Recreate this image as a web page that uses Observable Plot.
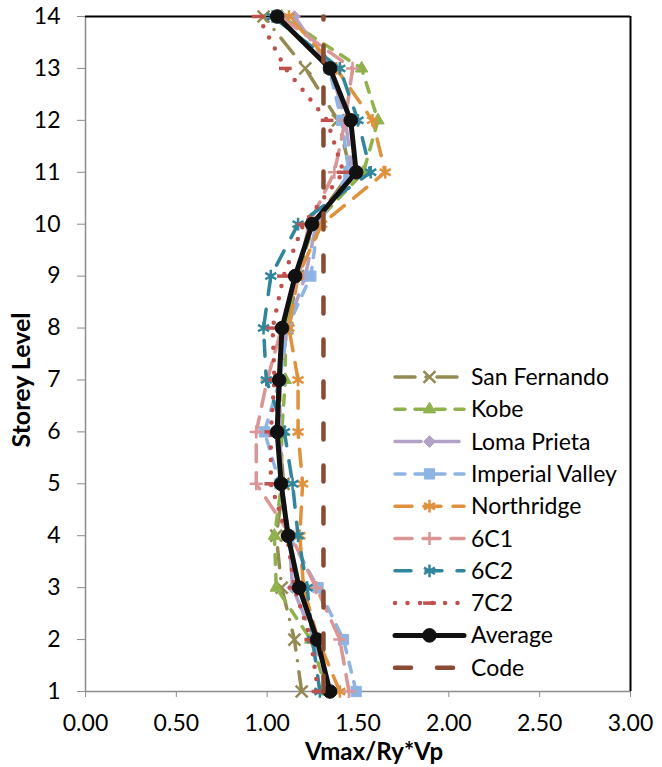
<!DOCTYPE html>
<html>
<head>
<meta charset="utf-8">
<script src="https://cdn.jsdelivr.net/npm/d3@7"></script>
<script src="https://cdn.jsdelivr.net/npm/@observablehq/plot@0.6"></script>
<style>
  html, body { margin: 0; padding: 0; background: #fff; }
  #chart { position: relative; width: 662px; height: 767px; }
</style>
</head>
<body>
<div id="chart"></div>
<script>
// ---- Data ----
const storeys = [1, 2, 3, 4, 5, 6, 7, 8, 9, 10, 11, 12, 13, 14];
const xTicks = [0, 0.5, 1, 1.5, 2, 2.5, 3];
const yTicks = [1, 2, 3, 4, 5, 6, 7, 8, 9, 10, 11, 12, 13, 14];

const sanFernando    = [1.19, 1.15, 1.08, 1.05, 1.09, 1.07, 1.07, 1.11, 1.17, 1.25, 1.46, 1.39, 1.21, 0.98];
const kobe           = [1.33, 1.24, 1.05, 1.04, 1.08, 1.08, 1.10, 1.10, 1.16, 1.26, 1.53, 1.61, 1.52, 1.08];
const lomaPrieta     = [1.34, 1.26, 1.14, 1.12, 1.08, 1.07, 1.07, 1.11, 1.21, 1.27, 1.47, 1.43, 1.35, 1.15];
const imperialValley = [1.49, 1.42, 1.28, 1.12, 1.07, 0.985, 1.07, 1.11, 1.24, 1.28, 1.45, 1.41, 1.34, 1.06];
const northridge     = [1.40, 1.28, 1.20, 1.18, 1.195, 1.17, 1.17, 1.12, 1.17, 1.30, 1.65, 1.58, 1.38, 1.12];
const s6C1           = [1.45, 1.40, 1.27, 1.13, 0.94, 0.94, 1.00, 1.08, 1.17, 1.23, 1.37, 1.43, 1.47, 1.07];
const s6C2           = [1.29, 1.25, 1.22, 1.17, 1.14, 1.095, 0.995, 0.98, 1.02, 1.17, 1.57, 1.50, 1.40, 1.03];
const s7C2           = [1.28, 1.24, 1.15, 1.11, 1.02, 1.02, 1.04, 1.03, 1.09, 1.20, 1.42, 1.33, 1.10, 0.95];
const average        = [1.346, 1.275, 1.176, 1.115, 1.077, 1.055, 1.066, 1.082, 1.154, 1.247, 1.49, 1.46, 1.346, 1.055];
const code           = [1.31, 1.31, 1.31, 1.31, 1.31, 1.31, 1.31, 1.31, 1.31, 1.31, 1.31, 1.31, 1.31, 1.31];

const seriesNames = ["San Fernando", "Kobe", "Loma Prieta", "Imperial Valley", "Northridge", "6C1", "6C2", "7C2", "Average", "Code"];
const seriesValues = [sanFernando, kobe, lomaPrieta, imperialValley, northridge, s6C1, s6C2, s7C2, average, code];

// ---- Custom symbols ----
const diamondSym = { draw(ctx, size) { const r = Math.sqrt(size) * 0.6; ctx.moveTo(0, -r); ctx.lineTo(r, 0); ctx.lineTo(0, r); ctx.lineTo(-r, 0); ctx.closePath(); } };
const dashSym = { draw(ctx, size) { const r = Math.sqrt(size) * 0.6; ctx.moveTo(-r, 0); ctx.lineTo(r, 0); } };

// ---- Styles ----
const styles = [
  { color: "#948A54", width: 3.5, dash: "20,11,0,11", symbol: "times", r: 5.5, filled: false, mw: 2.5 },
  { color: "#8FB24D", width: 3.5, dash: "10,10", symbol: "triangle", r: 4.6, filled: true, mw: 1 },
  { color: "#B3A2C7", width: 3.5, dash: "26,12", symbol: diamondSym, r: 5.5, filled: true, mw: 1 },
  { color: "#8EB4E3", width: 3.5, dash: "10,10", symbol: "square", r: 5.8, filled: true, mw: 1 },
  { color: "#E0913C", width: 3.5, dash: "17,12", symbol: "asterisk", r: 6, filled: false, mw: 2.5 },
  { color: "#D99694", width: 3.5, dash: "17,11", symbol: "plus", r: 4.3, filled: false, mw: 2.5 },
  { color: "#31859C", width: 3.5, dash: "16,15", symbol: "asterisk", r: 6, filled: false, mw: 2.5 },
  { color: "#C0504D", width: 4.5, dash: "0,12.5", symbol: dashSym, r: 6, filled: false, mw: 3.5 },
  { color: "#111111", width: 5, dash: null, symbol: "circle", r: 6.8, filled: true, mw: 1 },
  { color: "#8A4B32", width: 4.5, dash: "16,26", symbol: null, r: 0, filled: false, mw: 0 }
];

const marks = [
  Plot.ruleY([1], { stroke: "#8c8c8c", strokeWidth: 1.5 }),
  Plot.ruleX([0], { stroke: "#8c8c8c", strokeWidth: 1.5 }),
  Plot.ruleY([14], { stroke: "#000", strokeWidth: 2 }),
  Plot.ruleX([3], { stroke: "#000", strokeWidth: 2 }),
  Plot.axisX({ ticks: xTicks, tickFormat: d3.format(".2f"), tickSize: 6, tickPadding: 17, stroke: "#8c8c8c", label: null, fontSize: 23 }),
  Plot.axisY({ ticks: yTicks, tickFormat: d => String(d), tickSize: 8, tickPadding: 17, stroke: "#8c8c8c", label: null, fontSize: 23 })
];

seriesValues.forEach((vals, k) => {
  const s = styles[k];
  marks.push(Plot.line(storeys, {
    x: (d, i) => vals[i], y: d => d,
    stroke: s.color, strokeWidth: s.width, strokeDasharray: s.dash || undefined,
    strokeLinecap: "round", strokeLinejoin: "round"
  }));
  if (s.symbol) {
    marks.push(Plot.dot(storeys, {
      x: (d, i) => vals[i], y: d => d,
      symbol: s.symbol, r: s.r,
      fill: s.filled ? s.color : "none",
      stroke: s.color, strokeWidth: s.mw
    }));
  }
});

const chart = Plot.plot({
  width: 662, height: 767,
  marginLeft: 85, marginRight: 32, marginTop: 16, marginBottom: 76,
  x: { domain: [0, 3] },
  y: { domain: [1, 14] },
  style: { fontFamily: "Lato, 'Open Sans', sans-serif", fontSize: "23px", color: "#000", background: "#fff", overflow: "visible" },
  marks
});
document.getElementById("chart").appendChild(chart);

// ---- Titles and legend ----
const svg = d3.select(chart);
svg.append("text").attr("x", 374).attr("y", 760).attr("text-anchor", "middle")
  .attr("font-family", "Lato, sans-serif").attr("font-weight", "bold").attr("font-size", 24).attr("fill", "#000")
  .text("Vmax/Ry*Vp");
svg.append("text").attr("transform", "translate(30,380) rotate(-90)").attr("text-anchor", "middle")
  .attr("font-family", "Lato, sans-serif").attr("font-weight", "bold").attr("font-size", 25).attr("fill", "#000")
  .text("Storey Level");

const lg = svg.append("g").attr("transform", "translate(393,377)");
seriesNames.forEach((name, k) => {
  const s = styles[k];
  const g = lg.append("g").attr("transform", `translate(0,${k * 32.3})`);
  g.append("line").attr("x1", 2).attr("x2", 71).attr("y1", 0).attr("y2", 0)
    .attr("stroke", s.color).attr("stroke-width", s.width)
    .attr("stroke-dasharray", s.dash).attr("stroke-linecap", "round");
  if (s.symbol) {
    const symType = typeof s.symbol === "string"
      ? { times: d3.symbolTimes, triangle: d3.symbolTriangle, square: d3.symbolSquare, asterisk: d3.symbolAsterisk, plus: d3.symbolPlus, circle: d3.symbolCircle }[s.symbol]
      : s.symbol;
    g.append("path").attr("transform", "translate(36.5,0)")
      .attr("d", d3.symbol(symType, s.r * s.r * Math.PI)())
      .attr("fill", s.filled ? s.color : "none").attr("stroke", s.color).attr("stroke-width", s.mw);
  }
  g.append("text").attr("x", 78).attr("y", 0).attr("dy", "0.35em").attr("text-anchor", "start")
    .attr("font-family", "Lato, sans-serif").attr("font-size", 23).attr("fill", "#000").text(name);
});
</script>
</body>
</html>
